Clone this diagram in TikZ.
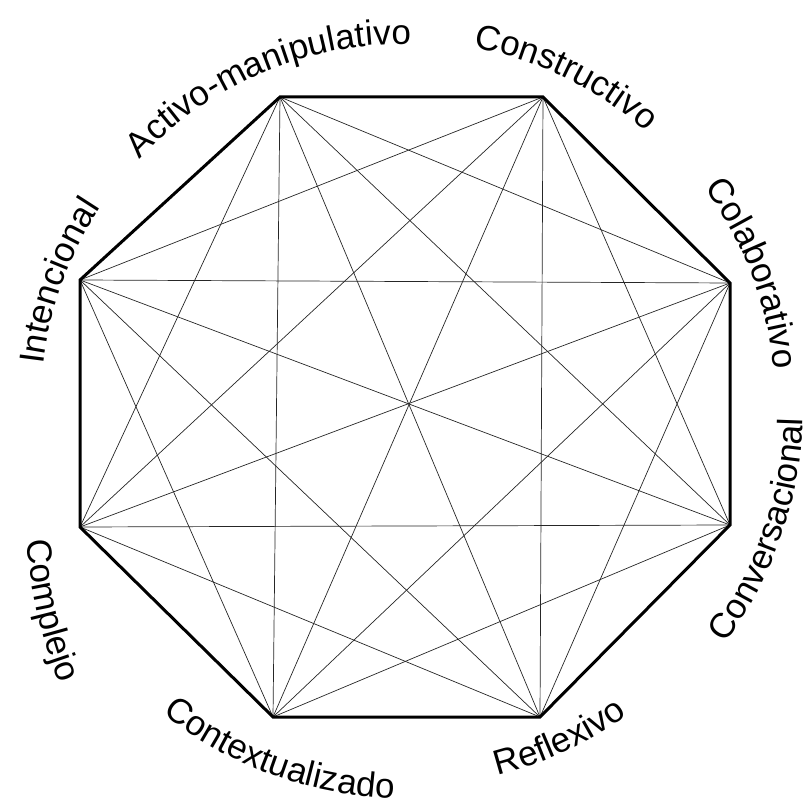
\documentclass[tikz,border=0pt]{standalone}
\usepackage{fontspec}
\setmainfont{Liberation Sans}
\usetikzlibrary{decorations.text}
\newcommand\lblfont{\fontsize{35}{35}\selectfont}
\tikzset{
  thinline/.style={line width=0.7pt, draw=black!85},
  sideline/.style={line width=3pt, line join=miter, draw=black},
  arclabel/.style={decorate, decoration={text along path, text align=center, text={|\lblfont|#1}}}
}
\begin{document}
\begin{tikzpicture}[x=1pt,y=1pt]
\useasboundingbox (0,0) rectangle (811,806);
\coordinate (O) at (405,399);
\coordinate (Oc) at (525,305);
\coordinate (v1) at (280,709);
\coordinate (v2) at (543,709);
\coordinate (v3) at (730,523);
\coordinate (v4) at (730,281);
\coordinate (v5) at (540,89);
\coordinate (v6) at (273,89);
\coordinate (v7) at (80,279);
\coordinate (v8) at (80,526);
% diagonals
\foreach \i in {1,...,8}{
  \foreach \j in {1,...,8}{
    \ifnum\j>\i \draw[thinline] (v\i) -- (v\j); \fi
  }
}
% sides
\draw[sideline] (v1) -- (v2) -- (v3) -- (v4) -- (v5) -- (v6) -- (v7) -- (v8) -- cycle;
% labels, top half (clockwise arcs)
\path[arclabel={Activo-manipulativo}] (O) ++(173:363) arc[start angle=173, end angle=53, radius=363];
\path[arclabel={Constructivo}] (O) ++(124:366) arc[start angle=124, end angle=4, radius=366];
\path[arclabel={Colaborativo}] (O) ++(81:371) arc[start angle=81, end angle=-39, radius=371];
\path[arclabel={Intencional}] (O) ++(220:364) arc[start angle=220, end angle=100, radius=364];
% labels, bottom half (counter-clockwise arcs)
\path[arclabel={Conversacional}] (O) ++(-79:398) arc[start angle=-79, end angle=41, radius=398];
\path[arclabel={Reflexivo}] (O) ++(-125:380) arc[start angle=-125, end angle=-5, radius=380];
\path[arclabel={Contextualizado}] (O) ++(190:391) arc[start angle=190, end angle=310, radius=391];
\path[arclabel={Complejo}] (Oc) ++(173:500) arc[start angle=173, end angle=213, radius=500];
\end{tikzpicture}
\end{document}
